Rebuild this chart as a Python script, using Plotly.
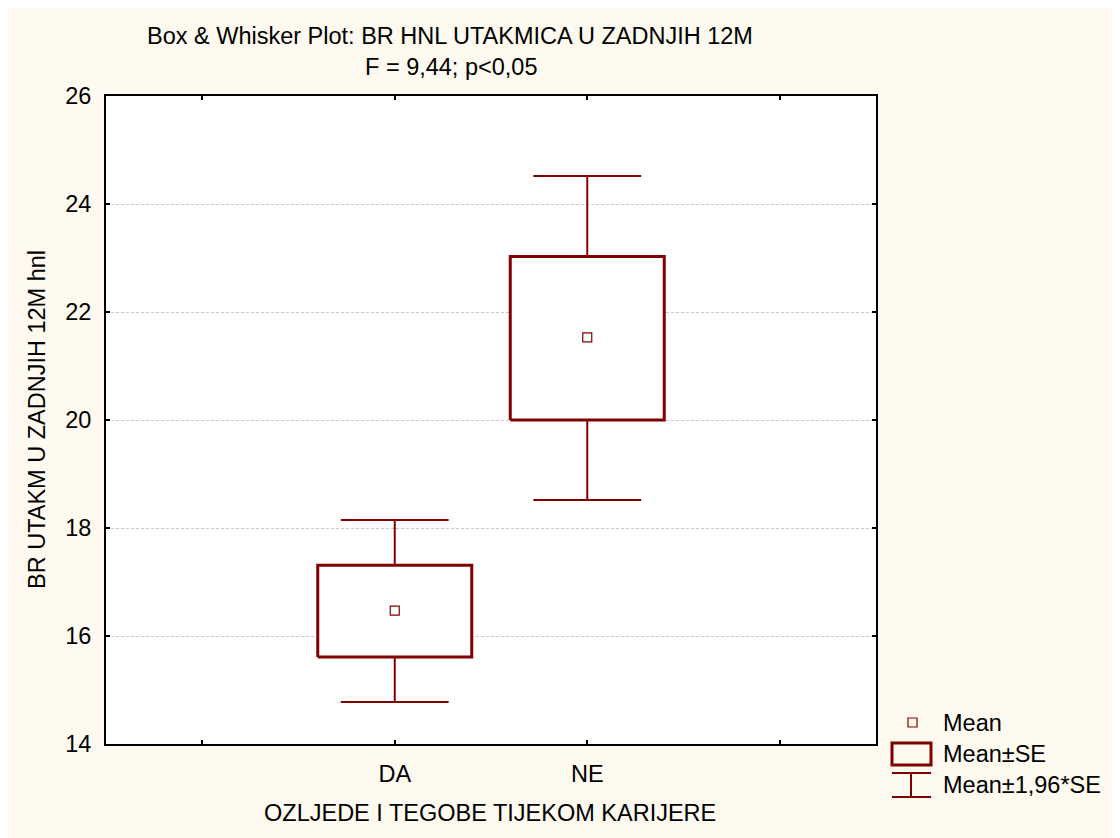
import plotly.graph_objects as go

# ---- data ----
categories = ["DA", "NE"]
means = [16.47, 21.53]
se_low = [15.61, 20.00]
se_high = [17.31, 23.03]
ci_low = [14.78, 18.52]
ci_high = [18.15, 24.52]

y_ticks = [14, 16, 18, 20, 22, 24, 26]
x_tickvals = [-1, 0, 1, 2]
x_ticktext = [""] + categories + [""]

# ---- style ----
RED = "#800000"
PAPER = "#FEFAEF"
FONT = "Liberation Sans, Arial, sans-serif"
FS = 23.5
BOX_HALF = 0.4
CAP_HALF = 0.28

OFF = 8  # page body margin
W, H = 1120, 838
# plot area in screen pixels: x 106..876, y 96..744
L = 106 - OFF
T = 96 - OFF
R = W - (876 - OFF)
B = H - (744 - OFF)
pw, ph = W - L - R, H - T - B


def px(xs):
    return (xs - OFF - L) / pw


def py(ys):
    return (H - B - (ys - OFF)) / ph


fig = go.Figure()

pos = list(range(len(categories)))

# whiskers (Mean +- 1.96*SE)
wx, wy = [], []
for i in pos:
    wx += [i, i, None, i, i, None,
           i - CAP_HALF, i + CAP_HALF, None, i - CAP_HALF, i + CAP_HALF, None]
    wy += [se_high[i], ci_high[i], None, se_low[i], ci_low[i], None,
           ci_high[i], ci_high[i], None, ci_low[i], ci_low[i], None]
fig.add_trace(go.Scatter(x=wx, y=wy, mode="lines",
                         line=dict(color=RED, width=2), hoverinfo="skip",
                         showlegend=False))

# boxes (Mean +- SE)
for i in pos:
    fig.add_trace(go.Scatter(
        x=[i - BOX_HALF, i + BOX_HALF, i + BOX_HALF, i - BOX_HALF, i - BOX_HALF],
        y=[se_low[i], se_low[i], se_high[i], se_high[i], se_low[i]],
        mode="lines", fill="toself", fillcolor="white",
        line=dict(color=RED, width=3), hoverinfo="skip", showlegend=False))

# means
fig.add_trace(go.Scatter(x=pos, y=means, mode="markers",
                         marker=dict(symbol="square-open", size=9, color=RED,
                                     line=dict(width=1.2, color=RED)),
                         showlegend=False))

# ---- legend drawn by hand ----
shapes = []
annotations = []
# Mean marker
shapes.append(dict(type="rect", xref="paper", yref="paper",
                   x0=px(908), x1=px(917), y0=py(727), y1=py(718),
                   line=dict(color=RED, width=1.2), fillcolor="rgba(0,0,0,0)"))
# Mean±SE rectangle
shapes.append(dict(type="rect", xref="paper", yref="paper",
                   x0=px(892), x1=px(931), y0=py(765), y1=py(743),
                   line=dict(color=RED, width=3), fillcolor="rgba(0,0,0,0)"))
# whisker symbol
for (x0, y0, x1, y1) in [(892, 773, 931, 773), (892, 797, 931, 797), (911, 773, 911, 797)]:
    shapes.append(dict(type="line", xref="paper", yref="paper",
                       x0=px(x0), x1=px(x1), y0=py(y0), y1=py(y1),
                       line=dict(color=RED, width=2)))
for label, yy in [("Mean", 723), ("Mean±SE", 754), ("Mean±1,96*SE", 785)]:
    annotations.append(dict(text=label, xref="paper", yref="paper",
                            x=px(941), y=py(yy), xanchor="left", yanchor="middle",
                            showarrow=False, font=dict(size=FS, color="black", family=FONT)))

# title
annotations.append(dict(text="Box & Whisker Plot: BR HNL UTAKMICA U ZADNJIH 12M",
                        xref="paper", yref="paper", x=px(450), y=py(36),
                        xanchor="center", yanchor="middle", showarrow=False,
                        font=dict(size=FS, color="black", family=FONT)))
annotations.append(dict(text="F = 9,44; p<0,05",
                        xref="paper", yref="paper", x=px(451), y=py(67),
                        xanchor="center", yanchor="middle", showarrow=False,
                        font=dict(size=FS, color="black", family=FONT)))
# axis titles
annotations.append(dict(text="BR UTAKM U ZADNJIH 12M hnl", textangle=-90,
                        xref="paper", yref="paper", x=px(37), y=py(420),
                        xanchor="center", yanchor="middle", showarrow=False,
                        font=dict(size=FS, color="black", family=FONT)))
annotations.append(dict(text="OZLJEDE I TEGOBE TIJEKOM KARIJERE",
                        xref="paper", yref="paper", x=px(490), y=py(813),
                        xanchor="center", yanchor="middle", showarrow=False,
                        font=dict(size=FS, color="black", family=FONT)))

fig.update_layout(
    width=W, height=H,
    margin=dict(l=L, r=R, t=T, b=B),
    paper_bgcolor=PAPER, plot_bgcolor="white",
    font=dict(family=FONT, size=FS, color="black"),
    showlegend=False,
    shapes=shapes, annotations=annotations,
    xaxis=dict(range=[-1.5, 2.5], tickvals=x_tickvals, ticktext=x_ticktext,
               showgrid=False, zeroline=False, showline=True, linecolor="black",
               linewidth=2, mirror="ticks", ticks="inside", ticklen=4,
               tickcolor="black", tickwidth=2, ticklabelstandoff=8,
               tickfont=dict(size=FS), fixedrange=True),
    yaxis=dict(range=[14, 26], tickvals=y_ticks, showgrid=True,
               gridcolor="#C8C8C8", griddash="3px,2px", gridwidth=1,
               zeroline=False, showline=True, linecolor="black", linewidth=2,
               mirror="ticks", ticks="inside", ticklen=4, tickcolor="black",
               tickwidth=2, ticklabelstandoff=8,
               tickfont=dict(size=FS), fixedrange=True),
)

fig.write_html("out.html")
